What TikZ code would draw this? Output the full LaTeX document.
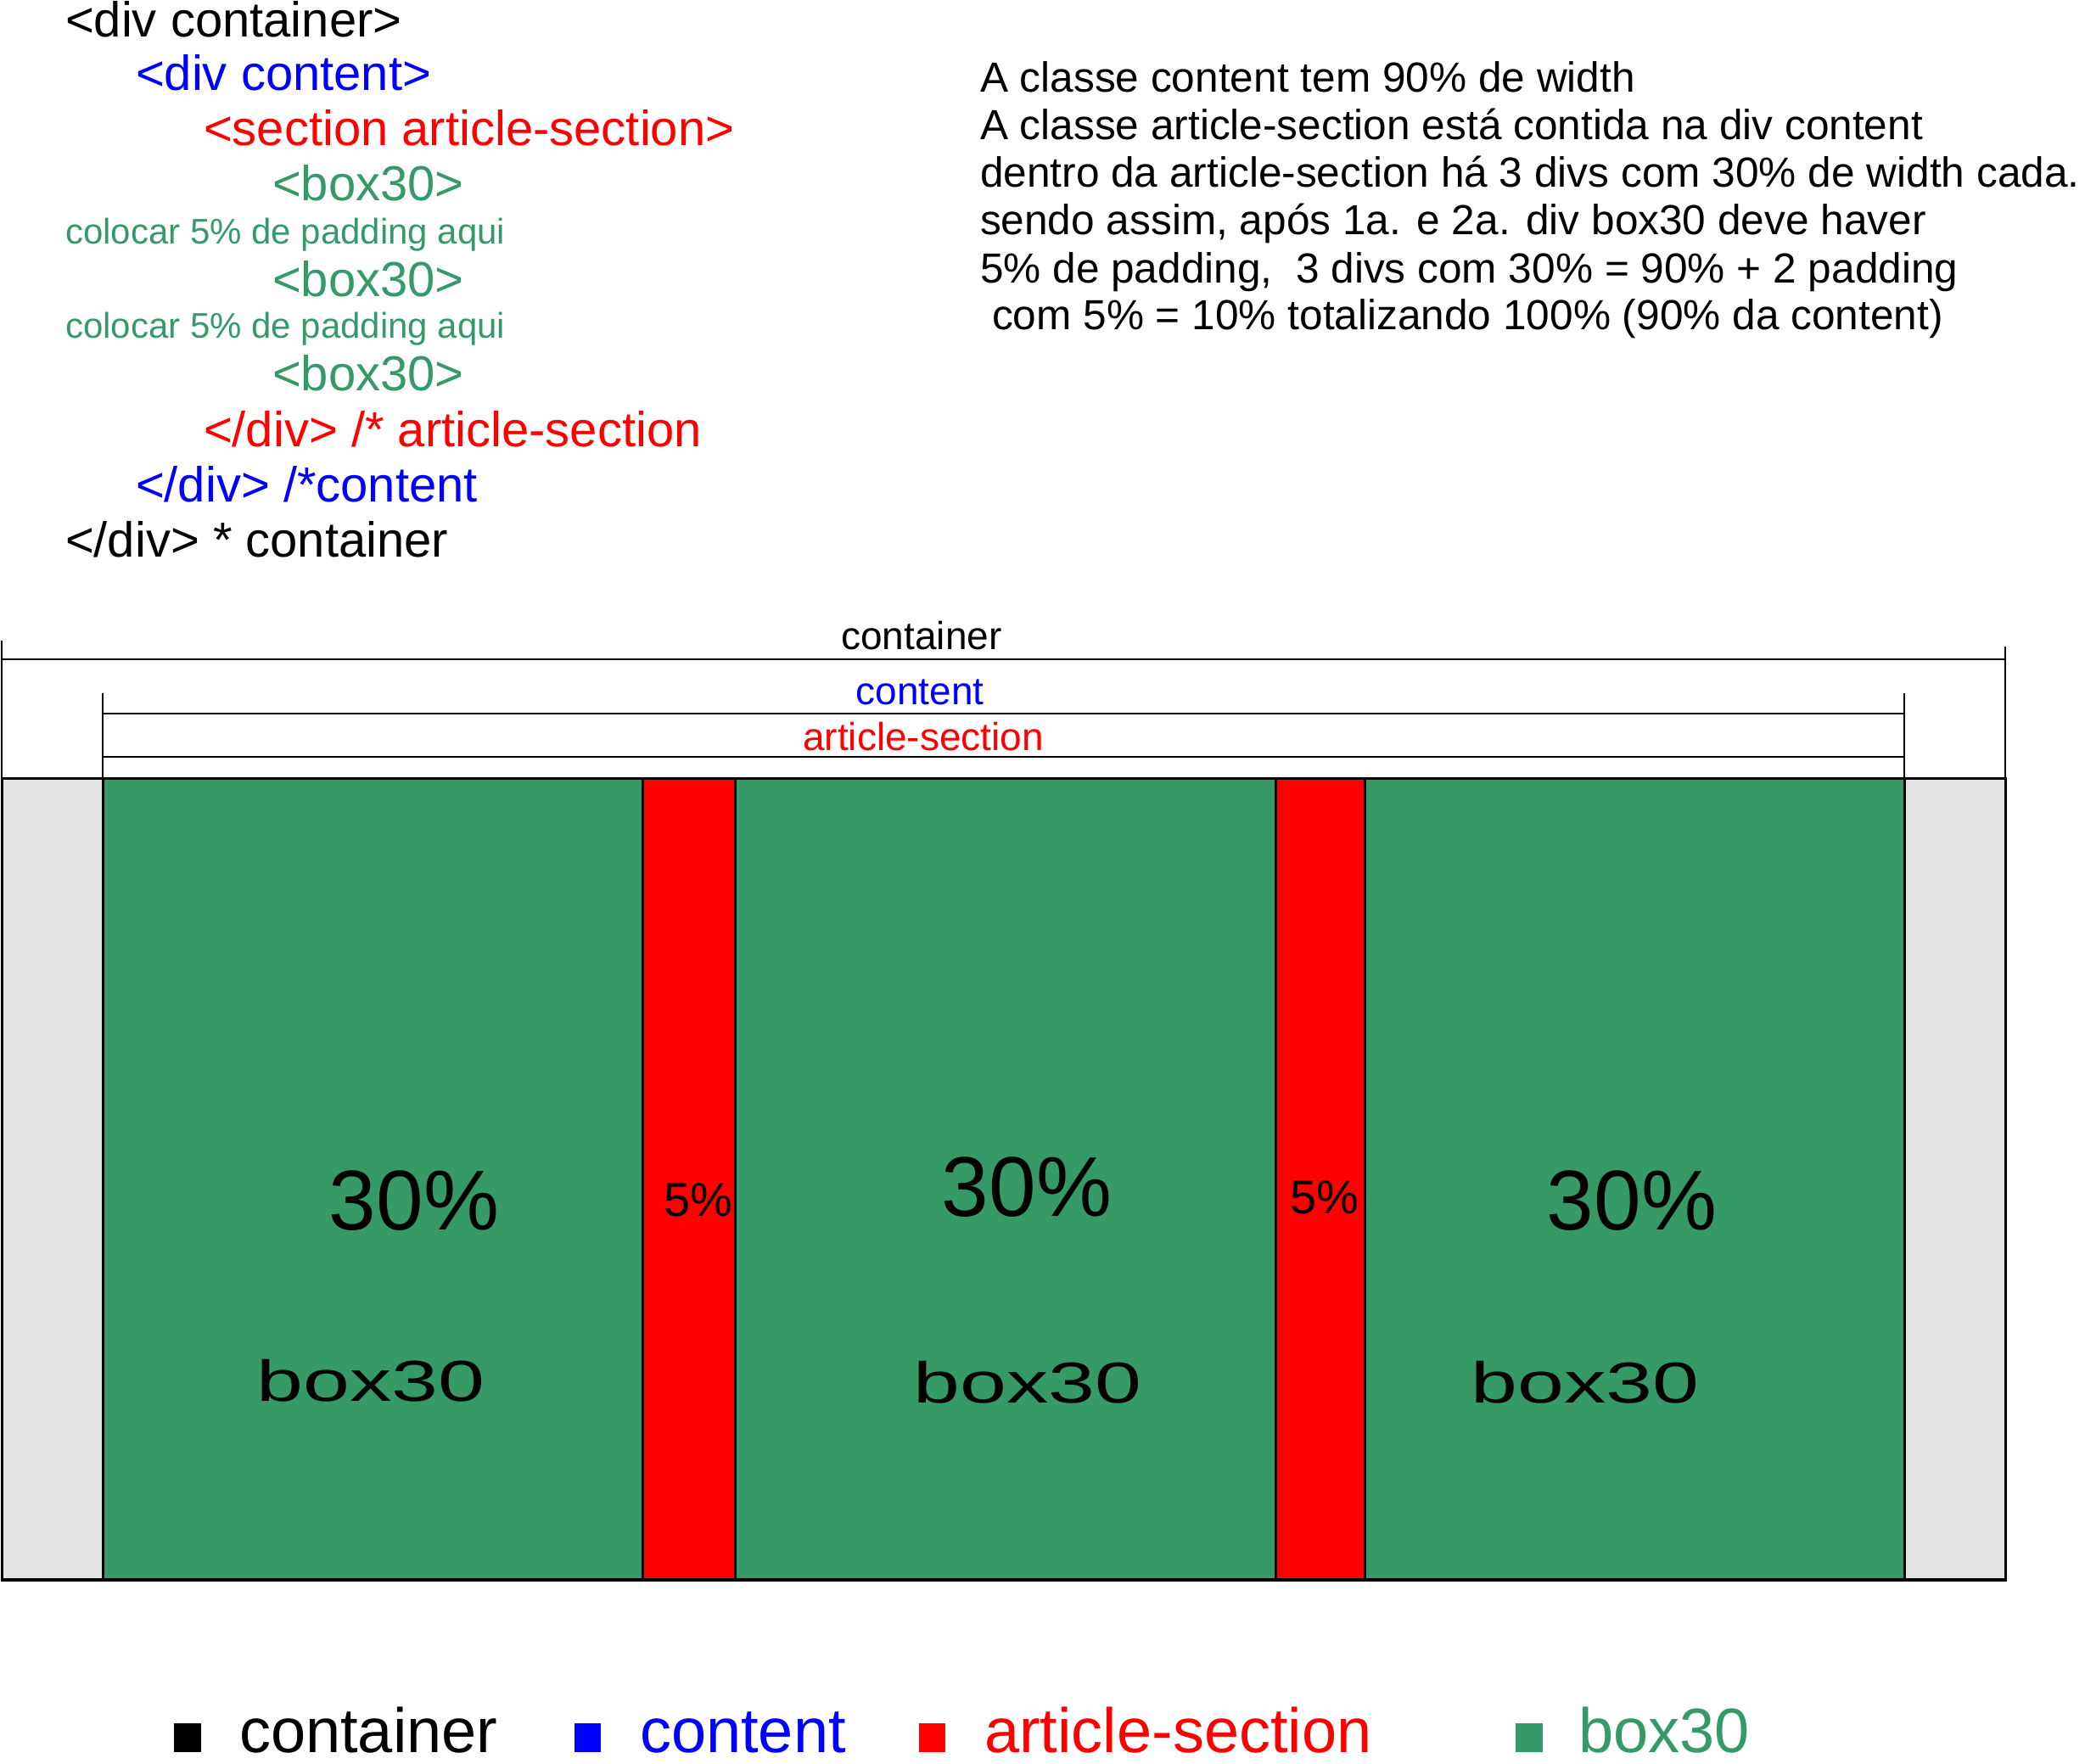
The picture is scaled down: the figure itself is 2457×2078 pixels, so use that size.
\documentclass[tikz,border=0pt]{standalone}
\usepackage{fontspec}
\setmainfont{Liberation Sans}
\usepackage{graphicx}
\definecolor{boxgreen}{RGB}{53,154,104}
\definecolor{padred}{RGB}{255,0,0}
\definecolor{cblue}{RGB}{0,0,255}
\definecolor{lgray}{RGB}{227,227,227}
\newcommand\myfs[1]{\fontsize{#1}{#1}\selectfont}
\begin{document}
\begin{tikzpicture}[x=1pt,y=-1pt,
  lbl/.style={inner sep=0pt, outer sep=0pt},
  code/.style={lbl, anchor=base west, font=\myfs{58}},
  small/.style={lbl, anchor=base west, font=\myfs{42}},
  note/.style={lbl, anchor=base west, font=\myfs{49.6}},
  tag/.style={lbl, anchor=base, font=\myfs{46}},
  pct/.style={lbl, anchor=base, font=\myfs{100}},
  pad/.style={lbl, anchor=base, font=\myfs{56}},
  boxname/.style={lbl, anchor=base, font=\myfs{68}},
  legend/.style={lbl, anchor=base west, font=\myfs{74}},
  bracket/.style={line width=2.5pt},
  boxline/.style={line width=3pt}]
\useasboundingbox (0,0) rectangle (2457,2078);

% code listing
\node[code, text=black] (c1) at (77,43) {<div container>};
\node[code, text=cblue] (c2) at (160,106) {<div content>};
\node[code, text=padred] (c3) at (240,171) {<section article-section>};
\node[code, text=boxgreen] (c4) at (321,236) {<box30>};
\node[small, text=boxgreen] (c5) at (77,287) {colocar 5\% de padding aqui};
\node[code, text=boxgreen] (c6) at (321,349) {<box30>};
\node[small, text=boxgreen] (c7) at (77,398) {colocar 5\% de padding aqui};
\node[code, text=boxgreen] (c8) at (321,460) {<box30>};
\node[code, text=padred] (c9) at (240,526) {</div> /* article-section};
\node[code, text=cblue] (c10) at (160,591) {</div> /*content};
\node[code, text=black] (c11) at (77,656) {</div> * container};

% notes
\node[note] (n1) at (1155,108) {A classe content tem 90\% de width};
\node[note] (n2) at (1155,164) {A classe article-section está contida na div content};
\node[note] (n3) at (1155,220) {dentro da article-section há 3 divs com 30\% de width cada.};
\node[note] (n4) at (1155,276) {sendo assim, após 1a. e 2a. div box30 deve haver};
\node[note] (n5) at (1155,333) {5\% de padding,\ \ 3 divs com 30\% = 90\% + 2 padding};
\node[note] (n6) at (1169,388) {com 5\% = 10\% totalizando 100\% (90\% da content)};

% side gray areas
\draw[boxline, fill=lgray] (2,917) rectangle (121,1862);
\draw[boxline, fill=lgray] (2244,917) rectangle (2363,1862);
% boxes and paddings
\draw[boxline, fill=boxgreen] (121,917) rectangle (757,1862);
\draw[boxline, fill=padred] (757,917) rectangle (866,1862);
\draw[boxline, fill=boxgreen] (866,917) rectangle (1503,1862);
\draw[boxline, fill=padred] (1503,917) rectangle (1608,1862);
\draw[boxline, fill=boxgreen] (1608,917) rectangle (2244,1862);
\draw[line width=4pt] (2,1862) -- (2363,1862);

% brackets
\draw[bracket] (2,755) -- (2,917);
\draw[bracket] (2,777) -- (2363,777);
\draw[bracket] (2363,762) -- (2363,917);
\draw[bracket] (121,817) -- (121,917);
\draw[bracket] (121,841) -- (2244,841);
\draw[bracket] (2244,817) -- (2244,917);
\draw[bracket] (121,892) -- (2244,892);
\draw[bracket] (2,917) -- (2363,917);

\node[tag, text=black] (t1) at (1086,765) {container};
\node[tag, text=cblue] (t2) at (1084,830) {content};
\node[tag, text=padred] (t3) at (1088,884) {article-section};

% box texts
\node[pct] (p1) at (488,1449) {30\%};
\node[pct] (p2) at (1210,1433) {30\%};
\node[pct] (p3) at (1923,1449) {30\%};
\node[pad] (q1) at (823,1433) {5\%};
\node[pad] (q2) at (1561,1430) {5\%};
\node[boxname] (b1) at (437,1651) {\scalebox{1.45}[1]{box30}};
\node[boxname] (b2) at (1211,1653) {\scalebox{1.45}[1]{box30}};
\node[boxname] (b3) at (1868,1653) {\scalebox{1.45}[1]{box30}};

% legend
\fill[black] (205,2031) rectangle (237,2065);
\node[legend, text=black] (l1) at (282,2065) {container};
\fill[cblue] (677,2031) rectangle (708,2065);
\node[legend, text=cblue] (l2) at (754,2065) {content};
\fill[padred] (1083,2031) rectangle (1114,2065);
\node[legend, text=padred] (l3) at (1160,2065) {article-section};
\fill[boxgreen] (1786,2031) rectangle (1818,2065);
\node[legend, text=boxgreen] (l4) at (1860,2065) {box30};
\end{tikzpicture}
\end{document}
